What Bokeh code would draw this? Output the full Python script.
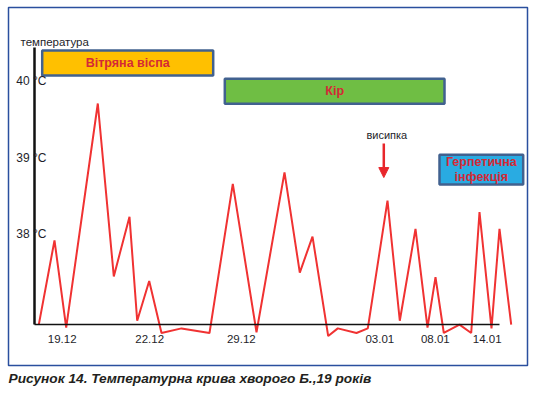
from bokeh.plotting import figure
from bokeh.models import (ColumnDataSource, FixedTicker, Label, Arrow, NormalHead,
                          Title, Range1d)
from bokeh.embed import file_html
from bokeh.resources import INLINE

# ---------------- data ----------------
x_pos = [0.43, 2.0, 3.17, 6.33, 7.93, 9.5, 10.27, 11.47, 12.7, 14.7, 17.5, 19.83,
         22.2, 25.0, 26.53, 27.8, 29.37, 30.33, 32.2, 33.33, 35.3, 36.53, 38.1,
         39.3, 40.1, 40.93, 42.5, 43.67, 44.5, 45.7, 46.5, 47.67]
temps = [36.82, 37.92, 36.78, 39.71, 37.45, 38.23, 36.87, 37.39, 36.71, 36.77,
         36.71, 38.66, 36.72, 38.81, 37.50, 37.97, 36.67, 36.77, 36.71, 36.77,
         38.44, 36.87, 38.07, 36.78, 37.44, 36.71, 36.82, 36.71, 38.29, 36.77,
         38.07, 36.82]
date_ticks = [2.77, 11.52, 20.68, 34.53, 40.08, 45.27]
date_labels = ["19.12", "22.12", "29.12", "03.01", "08.01", "14.01"]
temp_ticks = [38, 39, 40]
temp_labels = ["38 °C", "39 °C", "40 °C"]
periods = ["Вітряна віспа", "Кір", "Герпетична інфекція"]
period_start = [0.77, 19.03, 40.5]
period_end = [17.87, 41.0, 48.87]
rash_day = 34.93
baseline = 36.82

# ---------------- layout / styles ----------------
box_bottom = [40.076, 39.706, 38.651]
box_top = [40.403, 40.033, 39.04]
box_fill = ["#FFC000", "#6FBE44", "#29ABE2"]
RED = "#D42A36"
FONT = "Liberation Sans"

p = figure(width=533, height=393, output_backend="svg", toolbar_location=None,
           x_range=Range1d(-2.6, 49.3), y_range=Range1d(36.285, 40.965),
           min_border_left=8, min_border_right=6, min_border_top=7,
           min_border_bottom=28)
p.grid.visible = False
p.background_fill_color = "white"
p.border_fill_color = "white"
p.outline_line_color = "#2A4F9E"
p.outline_line_width = 1.5

# x axis
xa = p.xaxis[0]
xa.fixed_location = baseline
xa.bounds = (0, 46.5)
xa.ticker = FixedTicker(ticks=date_ticks)
xa.major_label_overrides = {t: l for t, l in zip(date_ticks, date_labels)}
xa.axis_line_color = "#111111"
xa.axis_line_width = 1.3
xa.major_tick_line_color = None
xa.minor_tick_line_color = None
xa.major_tick_out = 0
xa.major_tick_in = 0
xa.major_label_standoff = 10
xa.major_label_text_font = FONT
xa.major_label_text_font_size = "11.5px"
xa.major_label_text_color = "#1E1E2A"

# y axis
ya = p.yaxis[0]
ya.fixed_location = 0
ya.bounds = (baseline, 40.44)
ya.ticker = FixedTicker(ticks=temp_ticks)
ya.major_label_overrides = {t: l for t, l in zip(temp_ticks, temp_labels)}
ya.axis_line_color = "#111111"
ya.axis_line_width = 2.5
ya.major_tick_line_color = None
ya.minor_tick_line_color = None
ya.major_tick_out = 0
ya.major_tick_in = 0
ya.major_label_standoff = -12
ya.major_label_text_font = FONT
ya.major_label_text_font_size = "12px"
ya.major_label_text_color = "#1E1E2A"

# period boxes
src = ColumnDataSource(dict(left=period_start, right=period_end,
                            bottom=box_bottom, top=box_top, fill=box_fill))
p.quad(left="left", right="right", bottom="bottom", top="top", source=src,
       fill_color="fill", line_color="#41618F", line_width=2.5)

# temperature curve
p.line(x_pos, temps, line_color="#F03232", line_width=2)

# texts
p.add_layout(Label(x=(period_start[0] + period_end[0]) / 2, y=40.24,
                   text=periods[0], text_align="center", text_baseline="middle",
                   text_font=FONT, text_font_style="bold", text_font_size="12.5px",
                   text_color=RED))
p.add_layout(Label(x=(period_start[1] + period_end[1]) / 2, y=39.867,
                   text=periods[1], text_align="center", text_baseline="middle",
                   text_font=FONT, text_font_style="bold", text_font_size="12.5px",
                   text_color=RED))
herp = periods[2].split(" ")
for line_text, yy in zip(herp, [38.943, 38.747]):
    p.add_layout(Label(x=(period_start[2] + period_end[2]) / 2, y=yy,
                       text=line_text, text_align="center", text_baseline="middle",
                       text_font=FONT, text_font_style="bold", text_font_size="12.5px",
                       text_color=RED))

p.add_layout(Label(x=-1.4, y=40.51, text="температура", text_align="left",
                   text_baseline="alphabetic", text_font=FONT,
                   text_font_size="11.5px", text_color="#1E1E2A"))
p.add_layout(Label(x=rash_day + 0.3, y=39.296, text="висипка", text_align="center",
                   text_baseline="middle", text_font=FONT,
                   text_font_size="11px", text_color="#1E1E2A"))
p.add_layout(Arrow(x_start=rash_day, y_start=39.186, x_end=rash_day, y_end=38.742,
                   line_color="#E8262B", line_width=2.5,
                   end=NormalHead(size=10, fill_color="#E8262B",
                                  line_color="#E8262B")))

# caption
p.add_layout(Title(text="Рисунок 14. Температурна крива хворого Б.,19 років",
                   align="left", offset=0, standoff=6, text_font=FONT,
                   text_font_style="bold italic", text_font_size="13.7px",
                   text_color="#231F20"), "below")

open("out.html", "w").write(file_html(p, INLINE))
